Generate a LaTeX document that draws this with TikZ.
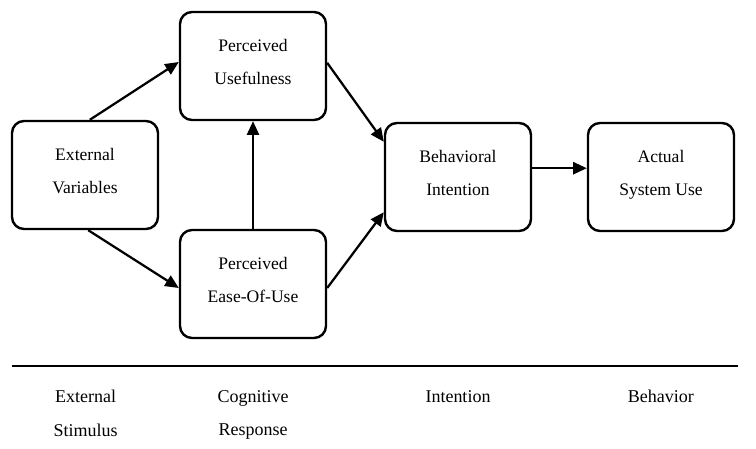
\documentclass[tikz,border=0pt]{standalone}
\usepackage{fontspec}
\setmainfont{Liberation Serif}
\usetikzlibrary{arrows.meta, positioning}
\tikzset{
    %Define standard arrow tip
    >={Triangle[length=3.4mm, width=3mm]},
}

\begin{document}
\begin{tikzpicture}[
  every node/.style = {align=center, font=\fontsize{12.5}{23.4}\selectfont},
  box/.style = {draw, line width=1.7pt, rounded corners=3mm, text depth=0.2cm,
                minimum width=3.65cm, minimum height=2.7cm},
  link/.style = {->, line width=1.6pt},
  stage/.style = {font=\fontsize{12.8}{24}\selectfont} ]
  \useasboundingbox (0,0) rectangle (18.9,-11.225);
  % model boxes
  \node [box] (ev)   at (2.125,-4.375)  {External\\Variables};
  \node [box] (pu)   at (6.325,-1.65)   {Perceived\\Usefulness};
  \node [box] (peou) at (6.325,-7.1)    {Perceived\\Ease-Of-Use};
  \node [box] (bi)   at (11.45,-4.425)  {Behavioral\\Intention};
  \node [box] (asu)  at (16.525,-4.425) {Actual\\System Use};
  % connectors
  \draw [link] ([xshift=1.2mm]ev.north) -- ([yshift=1mm]pu.west);
  \draw [link] ([xshift=0.8mm]ev.south) -- ([yshift=-1mm]peou.west);
  \draw [link] (peou.north) -- (pu.south);
  \draw [link] ([yshift=0.8mm]pu.east) -- ([yshift=8.8mm]bi.west);
  \draw [link] ([yshift=-1mm]peou.east) -- ([yshift=-8.8mm]bi.west);
  \draw [link] ([yshift=2.2mm]bi.east) -- ([yshift=2.2mm]asu.west);
  % stages
  \coordinate (l0) at (0.3,-9.15);
  \coordinate (l1) at (18.45,-9.15);
  \draw [line width=1.7pt] (l0) -- (l1);
  \node [stage, anchor=north] (s1) at (2.14,-9.63)  {External\\Stimulus};
  \node [stage, anchor=north] (s2) at (6.33,-9.63)  {Cognitive\\Response};
  \node [stage, anchor=north] (s3) at (11.45,-9.63) {Intention};
  \node [stage, anchor=north] (s4) at (16.52,-9.63) {Behavior};
\end{tikzpicture}
\end{document}
